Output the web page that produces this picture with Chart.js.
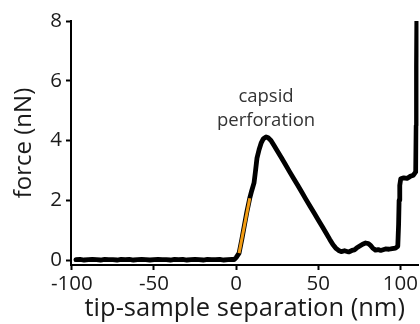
<!DOCTYPE html>
<html>
<head>
<meta charset="utf-8">
<script src="https://cdn.jsdelivr.net/npm/chart.js@4/dist/chart.umd.min.js"></script>
<style>
  html, body { margin: 0; padding: 0; background: #fff; }
  #wrap { width: 420px; height: 324px; position: relative; }
</style>
</head>
<body>
<div id="wrap"><canvas id="c" width="420" height="324"></canvas></div>
<script>
// ---- data ----
const separationNm = [
  -97.5, -95, -92.5, -90, -87.5, -85, -82.5, -80, -77.5, -75, -72.5, -70, -67.5, -65, -62.5, -60,
  -57.5, -55, -52.5, -50, -47.5, -45, -42.5, -40, -37.5, -35, -32.5, -30, -27.5, -25, -22.5, -20,
  -17.5, -15, -12.5, -10, -7.5, -5, -2.5, -1.2,
  0, 1.8, 3.5, 5, 6.5, 8.3, 9.5, 10.9, 11.8, 12.7, 14, 15.2, 16.6, 18.2, 19.5, 21.2,
  23, 25, 27.5, 30, 32.5, 35, 37.5, 40, 42.5, 45, 47.5, 50, 52.5, 55, 57, 59, 60.8,
  62.4, 64, 66, 68.5, 70.5, 72, 73.3, 75, 77, 78.8, 80.5, 81.8, 83, 84.8, 86.5, 88, 90.9,
  93, 95, 97, 98.4, 98.9, 99.2, 99.6, 100.2, 102, 104, 106, 107.9, 109.3, 109.6, 109.8, 110.1
];
const forceNN = [
  0.01, 0.02, 0.00, 0.01, 0.02, 0.01, 0.00, 0.02, 0.01, 0.01, 0.00, 0.02, 0.01, 0.02, 0.00, 0.01,
  0.02, 0.01, 0.00, 0.01, 0.02, 0.01, 0.01, 0.00, 0.02, 0.01, 0.02, 0.00, 0.01, 0.02, 0.01, 0.00,
  0.02, 0.01, 0.01, 0.02, 0.00, 0.01, 0.02, 0.01,
  0.08, 0.23, 0.70, 1.15, 1.60, 2.07, 2.32, 2.58, 2.98, 3.41, 3.70, 3.91, 4.06, 4.12, 4.09, 4.00,
  3.84, 3.66, 3.43, 3.20, 2.96, 2.73, 2.50, 2.27, 2.03, 1.80, 1.57, 1.34, 1.11, 0.88, 0.69, 0.51, 0.39,
  0.32, 0.28, 0.31, 0.27, 0.32, 0.34, 0.40, 0.46, 0.53, 0.57, 0.55, 0.49, 0.41, 0.33, 0.35, 0.32, 0.37,
  0.36, 0.38, 0.40, 0.46, 1.20, 2.00, 2.50, 2.72, 2.75, 2.73, 2.80, 2.84, 2.95, 4.5, 6.5, 9.0
];
// fitted slope segment (orange)
const slopeSepNm = [1.8, 8.3];
const slopeForceNN = [0.23, 2.07];

const xTicks = [-100, -50, 0, 50, 100];
const yTicks = [0, 2, 4, 6, 8];
const annotationLines = ["capsid", "perforation"];
const annotationAt = { x: 18.2, y: [5.45, 4.65] };

const xTitle = "tip-sample separation (nm)";
const yTitle = "force (nN)";

// ---- build ----
const mainPts = separationNm.map((x, i) => ({ x: x, y: forceNN[i] }));
const slopePts = slopeSepNm.map((x, i) => ({ x: x, y: slopeForceNN[i] }));

const FONT = "'Open Sans', 'Noto Sans', sans-serif";

const annotationPlugin = {
  id: 'annot',
  afterDatasetsDraw(chart) {
    const { ctx, scales } = chart;
    ctx.save();
    ctx.font = "18.5px " + FONT;
    ctx.fillStyle = "#333";
    ctx.textAlign = "center";
    ctx.textBaseline = "middle";
    const px = scales.x.getPixelForValue(annotationAt.x);
    annotationLines.forEach((t, i) => {
      ctx.fillText(t, px, scales.y.getPixelForValue(annotationAt.y[i]));
    });
    ctx.restore();
  }
};

new Chart(document.getElementById('c'), {
  type: 'scatter',
  data: {
    datasets: [
      {
        data: slopePts,
        showLine: true,
        borderColor: '#F39C12',
        borderWidth: 3,
        pointRadius: 0,
        order: 0
      },
      {
        data: mainPts,
        showLine: true,
        borderColor: '#000',
        borderWidth: 4.8,
        borderJoinStyle: 'round',
        borderCapStyle: 'round',
        pointRadius: 0,
        tension: 0,
        order: 1
      }
    ]
  },
  options: {
    responsive: false,
    animation: false,
    devicePixelRatio: 1,
    layout: { padding: { top: 21, right: 0, left: 0, bottom: 0 } },
    plugins: { legend: { display: false }, tooltip: { enabled: false } },
    scales: {
      x: {
        type: 'linear',
        min: -100.5,
        max: 111,
        afterFit(s) { s.height = 59; },
        afterBuildTicks(s) { s.ticks = xTicks.map(v => ({ value: v })); },
        ticks: { font: { family: FONT, size: 20.5 }, color: '#1a1a1a', padding: 2, maxRotation: 0 },
        grid: { display: true, drawOnChartArea: false, drawTicks: true, tickLength: 5, tickWidth: 2, tickColor: '#000' },
        border: { display: true, color: '#000', width: 2 },
        title: { display: true, text: xTitle, font: { family: FONT, size: 25.5 }, color: '#1a1a1a', padding: { top: 0, bottom: 0 } }
      },
      y: {
        type: 'linear',
        min: -0.167,
        max: 8,
        afterFit(s) { s.width = 71; },
        afterBuildTicks(s) { s.ticks = yTicks.map(v => ({ value: v })); },
        ticks: { font: { family: FONT, size: 20.5 }, color: '#1a1a1a', padding: 4 },
        grid: { display: true, drawOnChartArea: false, drawTicks: true, tickLength: 5, tickWidth: 2, tickColor: '#000' },
        border: { display: true, color: '#000', width: 2 },
        title: { display: true, text: yTitle, font: { family: FONT, size: 24 }, color: '#1a1a1a', padding: { top: 10, bottom: 0 } }
      }
    }
  },
  plugins: [annotationPlugin]
});
</script>
</body>
</html>
